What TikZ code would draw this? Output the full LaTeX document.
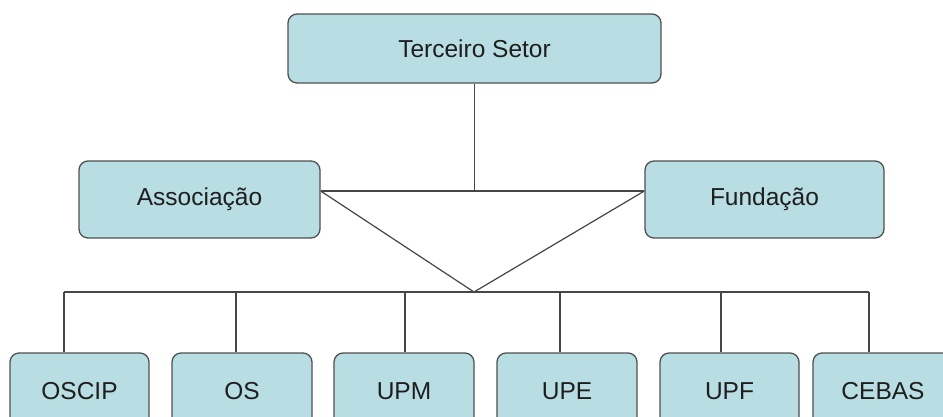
\documentclass[tikz,border=0pt]{standalone}
\usepackage{fontspec}
\setmainfont{Liberation Sans}
\definecolor{boxfill}{RGB}{184,222,227}
\definecolor{boxline}{RGB}{80,80,80}
\definecolor{conn}{RGB}{70,70,70}
\definecolor{txt}{RGB}{30,30,30}
\begin{document}
\begin{tikzpicture}[x=1pt,y=-1pt,
  orgbox/.style={draw=boxline, line width=1.3pt, fill=boxfill, rounded corners=9pt,
    inner sep=0pt, text=txt, font=\fontsize{24.5}{28}\selectfont},
  link/.style={draw=conn, line width=1.2pt}]
\useasboundingbox (0,0) rectangle (943,416);
\clip (0,0) rectangle (943,416);
\fill[white] (0,0) rectangle (943,416);
% boxes
\node[orgbox, minimum width=373pt, minimum height=69pt] (top) at (474.5,48.5) {Terceiro Setor};
\node[orgbox, minimum width=241pt, minimum height=77pt] (assoc) at (199.5,199.5) {Associação};
\node[orgbox, minimum width=239pt, minimum height=77pt] (fund) at (764.5,199.5) {Fundação};
\node[orgbox, minimum width=139pt, minimum height=77pt] (oscip) at (79.5,391.5) {OSCIP};
\node[orgbox, minimum width=140pt, minimum height=77pt] (os) at (242,391.5) {OS};
\node[orgbox, minimum width=140pt, minimum height=77pt] (upm) at (404,391.5) {UPM};
\node[orgbox, minimum width=140pt, minimum height=77pt] (upe) at (567,391.5) {UPE};
\node[orgbox, minimum width=139pt, minimum height=77pt] (upf) at (729.5,391.5) {UPF};
\node[orgbox, minimum width=140pt, minimum height=77pt] (cebas) at (883,391.5) {CEBAS};
% coordinates
\coordinate (hub) at (474.5,191);
\coordinate (aE) at ([yshift=8.5pt]assoc.east);
\coordinate (fW) at ([yshift=8.5pt]fund.west);
\coordinate (apex) at (474,292);
\coordinate (b1) at (64,292);
\coordinate (b2) at (236,292);
\coordinate (b3) at (405,292);
\coordinate (b4) at (560,292);
\coordinate (b5) at (721,292);
\coordinate (b6) at (869,292);
% connectors
\draw[link] (top.south) -- (hub);
\draw[link] (aE) -- (fW);
\draw[link] (aE) -- (apex) -- (fW);
\draw[link] (b1) -- (b6);
\draw[link] (b1) -- (b1 |- oscip.north);
\draw[link] (b2) -- (b2 |- os.north);
\draw[link] (b3) -- (b3 |- upm.north);
\draw[link] (b4) -- (b4 |- upe.north);
\draw[link] (b5) -- (b5 |- upf.north);
\draw[link] (b6) -- (b6 |- cebas.north);
\end{tikzpicture}
\end{document}
